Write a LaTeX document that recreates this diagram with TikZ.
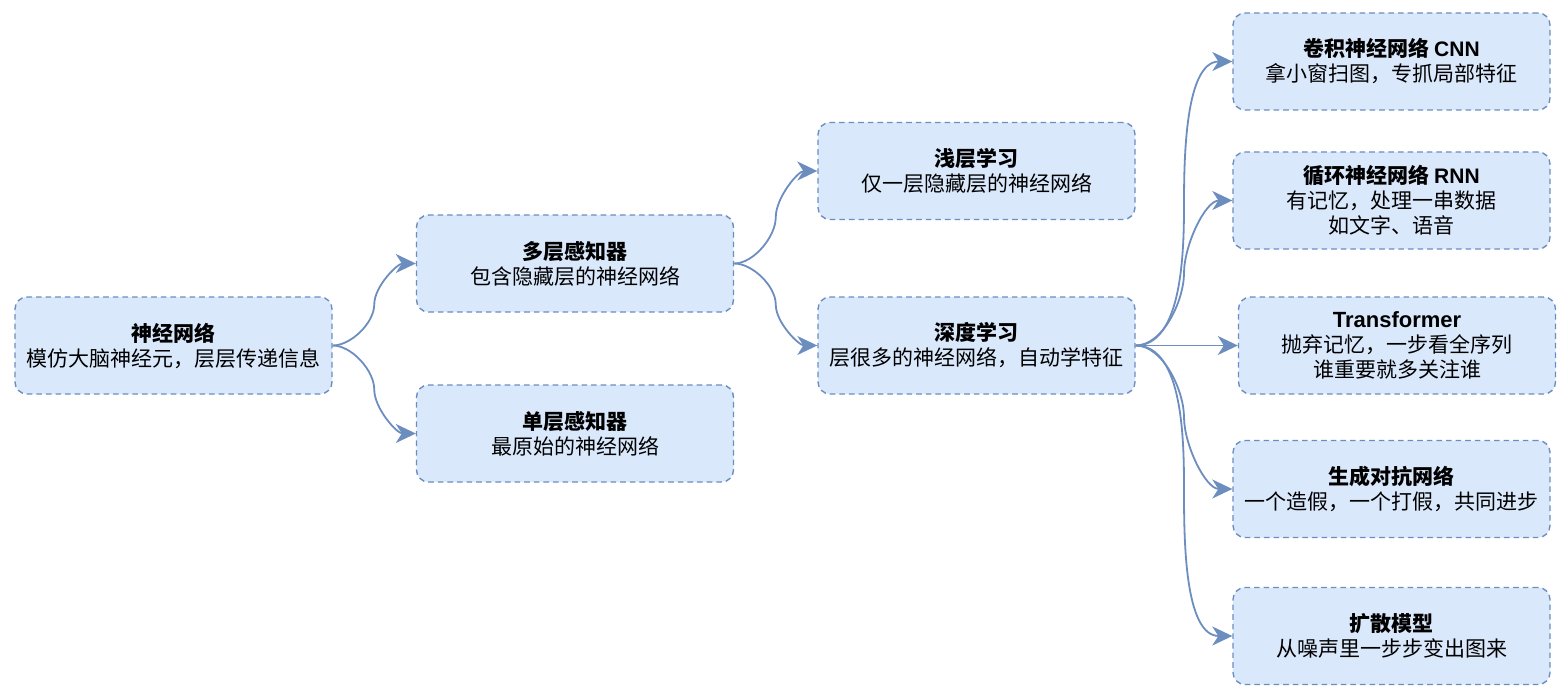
\documentclass[tikz,border=0pt]{standalone}
\usepackage{fontspec}
\setmainfont{Noto Sans CJK SC}
\newfontfamily\latinsans{Liberation Sans}
\usetikzlibrary{arrows.meta,calc}
\definecolor{nn_fill}{HTML}{DAE8FC}
\definecolor{nn_line}{HTML}{6C8EBF}

\tikzset{
  box/.style={draw=nn_line, fill=nn_fill, line width=0.7pt,
              dash pattern=on 2.8pt off 2pt, rounded corners=6pt,
              minimum width=158.5pt, minimum height=48.5pt,
              align=center, inner sep=2pt,
              font=\fontsize{10.5}{12.5}\selectfont},
  link/.style={draw=nn_line, line width=0.9pt,
               -{Stealth[length=10pt,width=9.5pt,inset=3pt]}},
}

\begin{document}
\begin{tikzpicture}[x=0.5pt, y=-0.5pt]
  \useasboundingbox (0,0) rectangle (1566,695);

  % boxes
  \node[box] (nn) at (173.5,345.5) {\textbf{神经网络}\\模仿大脑神经元，层层传递信息};
  \node[box] (mlp) at (575,263.5) {\textbf{多层感知器}\\包含隐藏层的神经网络};
  \node[box] (slp) at (575,433.5) {\textbf{单层感知器}\\最原始的神经网络};
  \node[box] (shallow) at (976.5,171) {\textbf{浅层学习}\\仅一层隐藏层的神经网络};
  \node[box] (deep) at (976.5,345.5) {\textbf{深度学习}\\层很多的神经网络，自动学特征};
  \node[box] (cnn) at (1391.5,61.5) {\textbf{卷积神经网络 {\latinsans CNN}}\\拿小窗扫图，专抓局部特征};
  \node[box] (rnn) at (1391.5,200.5) {\textbf{循环神经网络 {\latinsans RNN}}\\有记忆，处理一串数据\\如文字、语音};
  \node[box] (trans) at (1397,345.5) {{\latinsans\bfseries\fontsize{11}{12.5}\selectfont Transformer}\\抛弃记忆，一步看全序列\\谁重要就多关注谁};
  \node[box] (gan) at (1391.5,489) {\textbf{生成对抗网络}\\一个造假，一个打假，共同进步};
  \node[box] (diff) at (1391.5,636) {\textbf{扩散模型}\\从噪声里一步步变出图来};

  % connectors going up
  \foreach \src/\dst in {nn/mlp, mlp/shallow, deep/cnn, deep/rnn}
    \draw[link] (\src.east) to[out=0, in=-90, looseness=0.8] ($(\src.east)!.5!(\dst.west)$)
                to[out=90, in=180, looseness=0.8] (\dst.west);
  % connectors going down
  \foreach \src/\dst in {nn/slp, mlp/deep, deep/gan, deep/diff}
    \draw[link] (\src.east) to[out=0, in=90, looseness=0.8] ($(\src.east)!.5!(\dst.west)$)
                to[out=-90, in=180, looseness=0.8] (\dst.west);
  \draw[link] (deep.east) -- (trans.west);
\end{tikzpicture}
\end{document}
